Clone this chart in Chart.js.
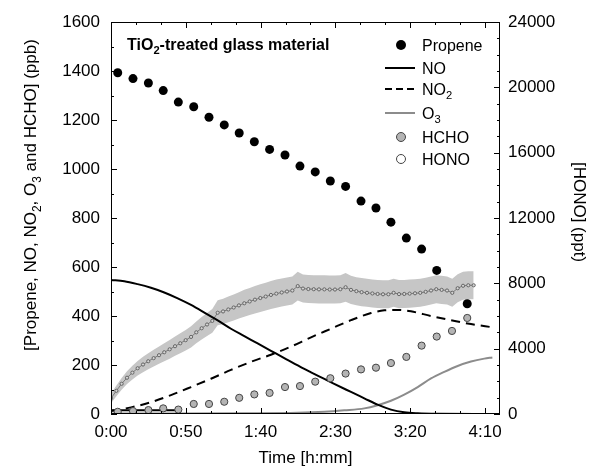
<!DOCTYPE html>
<html>
<head>
<meta charset="utf-8">
<script src="https://cdn.jsdelivr.net/npm/chart.js@4.4.1/dist/chart.umd.min.js"></script>
<style>
  body { margin: 0; background: #fff; }
  canvas { display: block; }
</style>
</head>
<body>
<canvas id="chart" width="592" height="474"></canvas>
<script>
// time in minutes since start
const xTickValues = [0, 50, 100, 150, 200, 250];

const propTimes = [4.5, 14.7, 25, 34.9, 45, 55.3, 65.5, 75.7, 85.7, 95.8, 106, 116.3, 126.3, 136.5, 146.6, 156.8, 167.1, 177.1, 187.1, 197.4, 207.6, 217.7, 238.1];
const propene = [1393, 1369, 1351, 1320, 1273, 1254, 1211, 1180, 1147, 1111, 1080, 1057, 1012, 988, 951, 929, 869, 841, 783, 718, 673, 586, 450];

const hchoTimes = [4.5, 14.7, 25, 34.9, 45, 55.3, 65.5, 75.7, 85.7, 95.8, 106, 116.3, 126.3, 136.5, 146.6, 156.8, 167.1, 177.1, 187.1, 197.4, 207.6, 217.7, 227.9, 238.1];
const hcho = [9, 12, 16, 23, 18, 41, 41, 50, 66, 80, 86, 110, 114, 132, 146, 165, 182, 189, 208, 233, 279, 316, 339, 392];

const noTimes = [0, 8.9, 17.8, 26.7, 35.6, 44.6, 53.5, 62.4, 71.3, 80.2, 89.1, 98, 106.9, 115.8, 126.3, 133.7, 142.6, 148.5, 160.4, 169.3, 178.2, 187.1, 196, 205, 218.3, 254.9];
const no = [547, 542, 530, 515, 496, 472, 445, 414, 382, 348, 318, 288, 258, 228, 193, 170, 143, 125, 90, 64, 38, 18, 7, 3, 1, 0];

const no2Times = [0, 13.4, 26.7, 40.1, 53.5, 66.8, 80.2, 93.6, 106.9, 120.3, 133.7, 147, 160.4, 173.8, 182.7, 191.6, 200.5, 213.9, 227.2, 240.6, 254.9];
const no2 = [12, 27, 48, 77, 110, 144, 180, 213, 242, 275, 313, 348, 383, 412, 423, 425, 419, 400, 383, 367, 354];

const o3Times = [0, 44.6, 89.1, 124.8, 142.6, 155.9, 169.3, 178.2, 187.1, 196, 205, 213.9, 222.8, 231.7, 240.6, 249.5, 254.9];
const o3 = [2, 2, 3, 5, 9, 15, 23, 36, 54, 79, 110, 145, 172, 196, 214, 226, 231];

const segTimes = [0, 44.6];
const seg = [15, 15];

// HONO (ppt, right axis) with its uncertainty
const honoTimes = [0, 3.6, 7.1, 10.7, 14.3, 17.8, 21.4, 24.9, 28.5, 32.1, 35.6, 39.2, 42.8, 46.3, 49.9, 53.5, 57, 60.6, 64.2, 67.7, 71.3, 74.9, 78.4, 82, 85.5, 89.1, 92.7, 96.2, 99.8, 103.4, 106.9, 110.5, 114.1, 117.6, 121.2, 124.8, 128.3, 131.9, 135.5, 139, 142.6, 146.2, 149.7, 153.3, 156.8, 160.4, 164, 167.5, 171.1, 174.7, 178.2, 181.8, 185.4, 188.9, 192.5, 196, 199.6, 203.2, 206.7, 210.3, 213.9, 217.4, 221, 224.6, 228.1, 231.7, 235.3, 238.8, 242.4];
const hono = [960, 1420, 1850, 2220, 2530, 2800, 3030, 3230, 3420, 3600, 3780, 3960, 4150, 4330, 4520, 4720, 5000, 5250, 5480, 5700, 6200, 6280, 6400, 6520, 6650, 6780, 6890, 7000, 7100, 7190, 7290, 7370, 7440, 7500, 7560, 7830, 7680, 7650, 7640, 7630, 7630, 7620, 7620, 7640, 7760, 7600, 7520, 7460, 7420, 7380, 7350, 7330, 7330, 7420, 7340, 7350, 7370, 7390, 7420, 7480, 7560, 7640, 7600, 7560, 7420, 7700, 7850, 7880, 7880];
const honoErr = [300, 330, 360, 390, 420, 450, 470, 490, 510, 530, 550, 570, 590, 610, 630, 650, 670, 690, 710, 730, 760, 780, 790, 800, 810, 820, 830, 840, 850, 850, 860, 860, 860, 860, 860, 880, 860, 860, 860, 860, 860, 860, 860, 860, 880, 860, 860, 860, 860, 860, 860, 860, 860, 860, 860, 860, 860, 860, 860, 860, 860, 860, 860, 860, 860, 860, 860, 860, 860];

const FONT = '"Liberation Sans", Arial, sans-serif';

const pts = (xs, ys) => xs.map((x, i) => ({ x: x, y: ys[i] }));

const fmtTime = (v) => Math.floor(v / 60) + ':' + String(Math.round(v % 60)).padStart(2, '0');

// draw text with subscript parts: parts = [[text, isSub], ...]
function richWidth(ctx, parts, size, bold) {
    let w = 0;
    parts.forEach(p => {
        ctx.font = (bold ? 'bold ' : '') + (p[1] ? size * 0.7 : size) + 'px ' + FONT;
        w += ctx.measureText(p[0]).width;
    });
    return w;
}
function drawRich(ctx, parts, x, y, size, bold, align) {
    let cx = x;
    if (align === 'center') cx = x - richWidth(ctx, parts, size, bold) / 2;
    ctx.textAlign = 'left';
    ctx.textBaseline = 'alphabetic';
    parts.forEach(p => {
        const s = p[1] ? size * 0.7 : size;
        ctx.font = (bold ? 'bold ' : '') + s + 'px ' + FONT;
        ctx.fillText(p[0], cx, p[1] ? y + size * 0.28 : y);
        cx += ctx.measureText(p[0]).width;
    });
}

const decorations = {
    id: 'decorations',
    afterDraw(chart) {
        const ctx = chart.ctx;
        const ca = chart.chartArea;
        const sx = chart.scales.x, sy = chart.scales.y, sy2 = chart.scales.y2;
        ctx.save();
        ctx.strokeStyle = '#000';
        ctx.fillStyle = '#000';
        ctx.lineWidth = 1;

        // frame
        ctx.strokeRect(ca.left + 0.5, ca.top + 0.5, ca.right - ca.left - 1, ca.bottom - ca.top - 1);

        // inward ticks (3 minor steps per 50 min)
        ctx.beginPath();
        for (let i = 0; i * 50 / 3 <= sx.max; i++) {
            const px = Math.round(sx.getPixelForValue(i * 50 / 3)) + 0.5;
            const len = i % 3 === 0 ? 6 : 3;
            ctx.moveTo(px, ca.bottom); ctx.lineTo(px, ca.bottom - len);
            ctx.moveTo(px, ca.top); ctx.lineTo(px, ca.top + len);
        }
        for (let v = 0; v <= 1600; v += 100) {
            const py = Math.round(sy.getPixelForValue(v)) + 0.5;
            const len = v % 200 === 0 ? 6 : 3;
            ctx.moveTo(ca.left, py); ctx.lineTo(ca.left + len, py);
        }
        for (let v = 0; v <= 24000; v += 1000) {
            const py = Math.round(sy2.getPixelForValue(v)) + 0.5;
            const len = v % 4000 === 0 ? 6 : 3;
            ctx.moveTo(ca.right, py); ctx.lineTo(ca.right - len, py);
        }
        ctx.stroke();

        // axis titles
        drawRich(ctx, [['Time [h:mm]', false]], (ca.left + ca.right) / 2, 463, 17, false, 'center');

        ctx.save();
        ctx.translate(36, 195);
        ctx.rotate(-Math.PI / 2);
        drawRich(ctx, [['[Propene, NO, NO', false], ['2', true], [', O', false], ['3', true], [' and HCHO] (ppb)', false]], 0, 0, 17, false, 'center');
        ctx.restore();

        ctx.save();
        ctx.translate(574, 212);
        ctx.rotate(Math.PI / 2);
        drawRich(ctx, [['[HONO] (ppt)', false]], 0, 0, 17, false, 'center');
        ctx.restore();

        // panel title
        drawRich(ctx, [['TiO', false], ['2', true], ['-treated glass material', false]], 127, 50, 16, true, 'left');

        // legend
        const mx = 401, tx = 422;
        const rows = [45, 68, 89, 113, 137, 159];
        ctx.beginPath();
        ctx.arc(mx, rows[0], 5, 0, Math.PI * 2);
        ctx.fillStyle = '#000';
        ctx.fill();

        ctx.lineWidth = 2;
        ctx.strokeStyle = '#000';
        ctx.beginPath(); ctx.moveTo(385, rows[1]); ctx.lineTo(415, rows[1]); ctx.stroke();
        ctx.setLineDash([7, 4]);
        ctx.beginPath(); ctx.moveTo(385, rows[2]); ctx.lineTo(415, rows[2]); ctx.stroke();
        ctx.setLineDash([]);
        ctx.strokeStyle = '#8c8c8c';
        ctx.beginPath(); ctx.moveTo(385, rows[3]); ctx.lineTo(415, rows[3]); ctx.stroke();

        ctx.lineWidth = 1;
        ctx.strokeStyle = '#444';
        ctx.beginPath(); ctx.arc(mx, rows[4], 4.5, 0, Math.PI * 2);
        ctx.fillStyle = '#b4b4b4'; ctx.fill(); ctx.stroke();
        ctx.beginPath(); ctx.arc(mx, rows[5], 4.5, 0, Math.PI * 2);
        ctx.fillStyle = '#fff'; ctx.fill(); ctx.stroke();

        ctx.fillStyle = '#000';
        const labels = [
            [['Propene', false]],
            [['NO', false]],
            [['NO', false], ['2', true]],
            [['O', false], ['3', true]],
            [['HCHO', false]],
            [['HONO', false]]
        ];
        labels.forEach((l, i) => drawRich(ctx, l, tx, rows[i] + 6, 16, false, 'left'));
        ctx.restore();
    }
};

new Chart(document.getElementById('chart').getContext('2d'), {
    type: 'line',
    data: {
        datasets: [
            {
                label: 'Propene',
                data: pts(propTimes, propene),
                yAxisID: 'y',
                showLine: false,
                pointRadius: 4.5,
                pointBackgroundColor: '#000',
                pointBorderColor: '#000',
                pointBorderWidth: 0
            },
            {
                label: 'HCHO',
                data: pts(hchoTimes, hcho),
                yAxisID: 'y',
                showLine: false,
                pointRadius: 3.6,
                pointBackgroundColor: '#b4b4b4',
                pointBorderColor: '#444',
                pointBorderWidth: 1
            },
            {
                label: 'NO',
                data: pts(noTimes, no),
                yAxisID: 'y',
                borderColor: '#000',
                borderWidth: 2,
                pointRadius: 0,
                cubicInterpolationMode: 'monotone'
            },
            {
                label: 'NO2',
                data: pts(no2Times, no2),
                yAxisID: 'y',
                borderColor: '#000',
                borderWidth: 2,
                borderDash: [9, 6],
                pointRadius: 0,
                cubicInterpolationMode: 'monotone'
            },
            {
                label: 'O3',
                data: pts(o3Times, o3),
                yAxisID: 'y',
                borderColor: '#8c8c8c',
                borderWidth: 2,
                pointRadius: 0,
                cubicInterpolationMode: 'monotone'
            },
            {
                label: 'seg',
                data: pts(segTimes, seg),
                yAxisID: 'y',
                borderColor: '#000',
                borderWidth: 2,
                pointRadius: 0
            },
            {
                label: 'HONO',
                data: pts(honoTimes, hono),
                yAxisID: 'y2',
                showLine: true,
                borderColor: '#7a7a7a',
                borderWidth: 1,
                pointRadius: 1.6,
                pointBackgroundColor: '#d4d4d4',
                pointBorderColor: '#666',
                pointBorderWidth: 1
            },
            {
                label: 'HONO high',
                data: pts(honoTimes, hono.map((v, i) => v + honoErr[i])),
                yAxisID: 'y2',
                borderWidth: 0,
                pointRadius: 0,
                backgroundColor: '#c6c6c6',
                fill: '+1'
            },
            {
                label: 'HONO low',
                data: pts(honoTimes, hono.map((v, i) => v - honoErr[i])),
                yAxisID: 'y2',
                borderWidth: 0,
                pointRadius: 0,
                fill: false
            }
        ]
    },
    options: {
        responsive: false,
        animation: false,
        layout: { padding: { top: 22, left: 0, right: 0, bottom: 0 } },
        plugins: {
            legend: { display: false },
            tooltip: { enabled: false }
        },
        scales: {
            x: {
                type: 'linear',
                min: 0,
                max: 260,
                grid: { display: false, drawTicks: false },
                border: { display: false },
                ticks: {
                    autoSkip: false,
                    padding: 8,
                    maxRotation: 0,
                    color: '#000',
                    font: { family: FONT, size: 17 },
                    callback: (v) => fmtTime(v)
                },
                afterBuildTicks: (scale) => {
                    scale.ticks = xTickValues.map(v => ({ value: v }));
                },
                afterFit: (scale) => { scale.height = 60; }
            },
            y: {
                position: 'left',
                min: 0,
                max: 1600,
                grid: { display: false, drawTicks: false },
                border: { display: false },
                ticks: {
                    stepSize: 200,
                    padding: 11,
                    color: '#000',
                    font: { family: FONT, size: 17 },
                    callback: (v) => String(v)
                },
                afterFit: (scale) => { scale.width = 111; }
            },
            y2: {
                position: 'right',
                min: 0,
                max: 24000,
                grid: { display: false, drawTicks: false },
                border: { display: false },
                ticks: {
                    stepSize: 4000,
                    padding: 8,
                    color: '#000',
                    font: { family: FONT, size: 17 },
                    callback: (v) => String(v)
                },
                afterFit: (scale) => { scale.width = 92; }
            }
        }
    },
    plugins: [decorations]
});
</script>
</body>
</html>
